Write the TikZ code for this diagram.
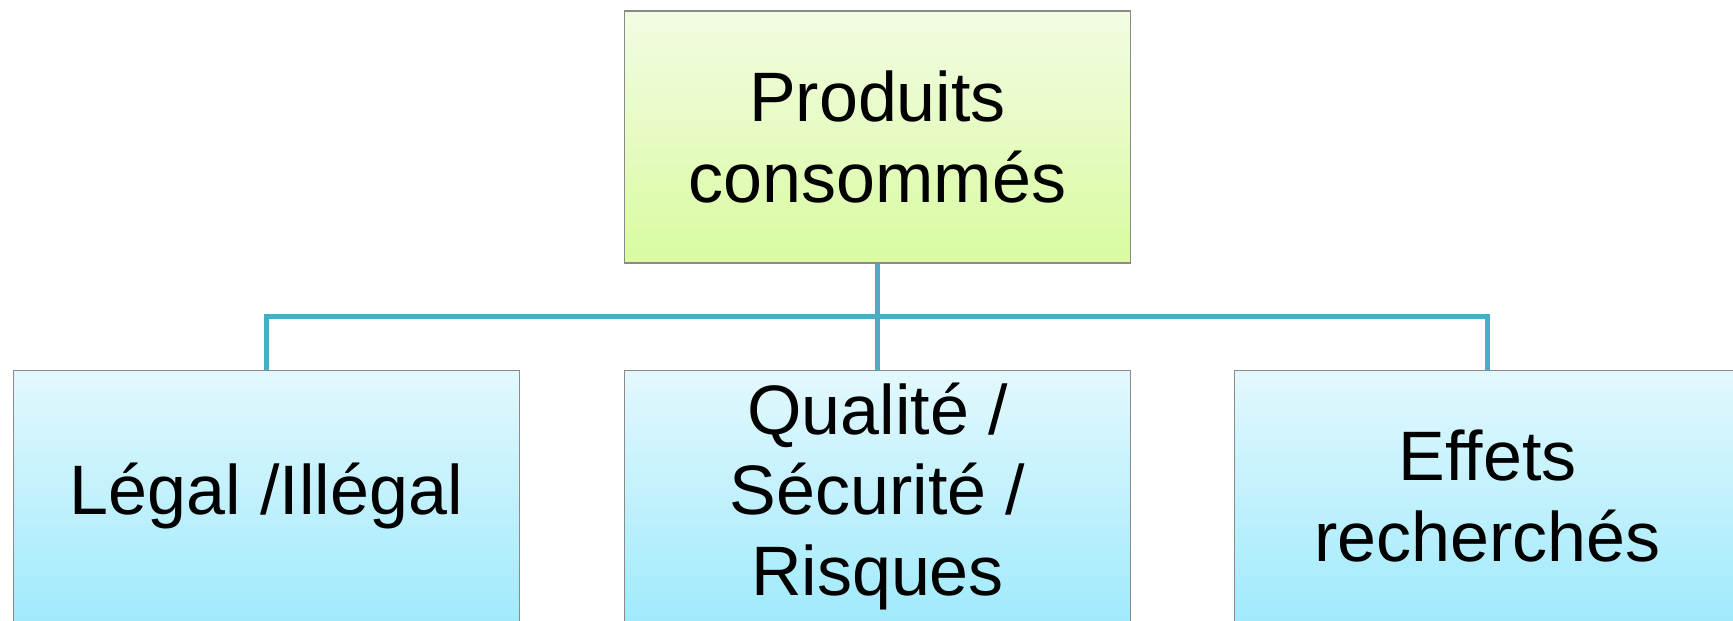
\documentclass[tikz,border=0pt]{standalone}
\usepackage{fontspec}
\setmainfont{Liberation Sans}
\usetikzlibrary{positioning,calc}

\definecolor{linkblue}{HTML}{4BACC6}
\definecolor{boxgray}{HTML}{8A8A8A}
\definecolor{greentop}{HTML}{F2FCE3}
\definecolor{greenbot}{HTML}{D9FBA0}
\definecolor{bluetop}{HTML}{E3F8FD}
\definecolor{bluebot}{HTML}{A0EAFC}

\begin{document}
\begin{tikzpicture}[x=1pt,y=1pt,
        box/.style={rectangle,draw=boxgray,line width=1.2pt,minimum width=506pt,minimum height=252pt,
            align=center,font=\fontsize{70}{80.5}\selectfont,inner sep=0pt},
        rootbox/.style={box,top color=greentop,bottom color=greenbot},
        leafbox/.style={box,top color=bluetop,bottom color=bluebot},
        link/.style={draw=linkblue,line width=4.6pt}
    ]
    \useasboundingbox (0,0) rectangle (1733,-621);

    \node[rootbox] (produits) at (877.5,-137) {Produits\\consommés};
    \node[leafbox] (qualite) [below=106pt of produits] {Qualité /\\Sécurité /\\Risques};
    \node[leafbox] (legal) [left=104pt of qualite] {Légal /Illégal};
    \node[leafbox] (effets) [right=103pt of qualite] {Effets\\recherchés};

    \coordinate (split) at ($(produits.south)!0.5!(qualite.north)$);
    \draw[link] (produits.south) -- (qualite.north);
    \draw[link] (legal.north) |- (split) -| (effets.north);
\end{tikzpicture}
\end{document}
